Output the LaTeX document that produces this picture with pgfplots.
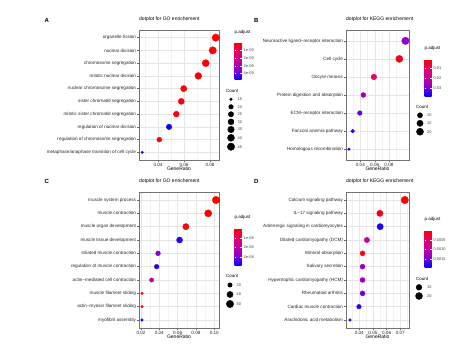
\documentclass[border=0pt]{standalone}
\usepackage{pgfplots}
\usepackage{pgfplotstable}
\pgfplotsset{compat=1.18}
\usepackage{fontspec}
\setmainfont{Liberation Sans}
\newcommand\tlf{\fontsize{4.6}{5.5}\selectfont}
\newcommand\lgf{\fontsize{3.9}{4.8}\selectfont}
\newcommand\lgt{\fontsize{4.5}{5.4}\selectfont}
\newcommand\ttf{\fontsize{5.0}{6}\selectfont}

\pgfplotstableread{
y ratio padj count
0 0.0844 1.0e-11 45
1 0.0821 2.0e-11 44
2 0.0767 5.0e-11 41
3 0.0710 1.0e-10 38
4 0.0598 1.5e-10 32
5 0.0579 1.5e-10 31
6 0.0541 2.0e-10 29
7 0.0485 4.6e-09 26
8 0.0410 3.0e-10 22
9 0.0279 4.5e-09 15
}\tabA

\pgfplotstableread{
y ratio padj count
0 0.1030 0.027 22
1 0.0945 0.002 20
2 0.0589 0.011 12
3 0.0442 0.025 9
4 0.0392 0.031 8
5 0.0293 0.035 6
6 0.0240 0.037 5
}\tabB

\pgfplotstableread{
y ratio padj count
0 0.1019 1.0e-10 61
1 0.0934 2.0e-10 56
2 0.0690 5.0e-10 41
3 0.0621 3.6e-08 37
4 0.0386 2.8e-08 23
5 0.0371 3.5e-08 22
6 0.0316 2.0e-08 19
7 0.0211 5.0e-10 13
8 0.0211 1.0e-09 13
9 0.0211 3.7e-08 13
}\tabC

\pgfplotstableread{
y ratio padj count
0 0.0733 0.00002 22
1 0.0551 0.00010 17
2 0.0553 0.00180 17
3 0.0456 0.00090 14
4 0.0424 0.00010 13
5 0.0424 0.00125 13
6 0.0424 0.00125 13
7 0.0424 0.00150 13
8 0.0398 0.00175 12
9 0.0332 0.00180 10
}\tabD

\pgfplotsset{
  colormap={padj}{rgb255=(255,0,0) rgb255=(232,0,100) rgb255=(195,0,155) rgb255=(135,0,210) rgb255=(0,0,255)},
  panel/.style={
    scale only axis, anchor=north west, y dir=reverse,
    colormap name=padj,
    scaled x ticks=false,
    axis line style={black!55, line width=0.45pt},
    tick style={black!60, line width=0.35pt},
    major tick length=1.6pt, minor tick length=0pt, tick align=outside,
    tick pos=left,
    grid=both,
    major grid style={black!10, line width=0.35pt},
    minor grid style={black!5, line width=0.25pt},
    ticklabel style={font=\tlf, text=black!85},
    xticklabel style={inner sep=1pt},
    yticklabel style={inner sep=1.2pt},
    xlabel=GeneRatio, xlabel style={font=\ttf, inner sep=0pt, yshift=0pt},
    title style={at={(0,1)}, anchor=south west, font=\ttf, inner sep=0pt, yshift=2.5pt},
    clip=false,
    colorbar,
  },
  every colorbar/.append style={
    scale only axis, width=7pt, height=37pt,
    at={(parent axis.north east)}, anchor=north west, xshift=7pt,
    y dir=reverse, scaled y ticks=false, grid=none, xlabel={}, ylabel={},
    axis line style={draw=none},
    tick style={draw=white, line width=0.4pt},
    major tick length=1.4pt, tick align=inside,
    ytick pos=both, yticklabel pos=right,
    yticklabel style={font=\lgf, text=black!75, inner sep=1pt, xshift=1pt},
    title=p.adjust,
    title style={at={(0,1)}, anchor=south west, font=\lgt, inner sep=0pt, yshift=2pt},
  },
  dots/.style 2 args={scatter, only marks, mark=*,
    scatter/use mapped color={draw=mapped color, fill=mapped color},
    point meta=\thisrow{padj},
    visualization depends on={\thisrow{count} \as \cnt},
    scatter/@pre marker code/.append style={/tikz/mark size={1.3+2.4*sqrt((\cnt-#1)/(#2-#1))}}},
  legdots/.style 2 args={scatter, only marks, mark=*,
    scatter/use mapped color={draw=black, fill=black},
    point meta=\thisrow{count},
    visualization depends on={\thisrow{count} \as \cnt},
    scatter/@pre marker code/.append style={/tikz/mark size={1.3+2.4*sqrt((\cnt-#1)/(#2-#1))}}},
}

\begin{document}
\begin{tikzpicture}
\useasboundingbox (0,0) rectangle (474pt,-351pt);

% Panel A
\begin{axis}[panel, at={(139pt,-30pt)}, width=80pt, height=130pt,
  title={dotplot for GO enrichement},
  xmin=0.0254, xmax=0.0869, ymin=-0.6, ymax=9.6,
  xtick={0.04,0.06,0.08}, xticklabels={0.04,0.06,0.08},
  minor xtick={0.03,0.05,0.07},
  ytick={0,...,9},
  yticklabels={organelle fission, nuclear division, chromosome segregation, mitotic nuclear division, nuclear chromosome segregation, sister chromatid segregation, mitotic sister chromatid segregation, regulation of nuclear division, regulation of chromosome segregation, metaphase/anaphase transition of cell cycle},
  point meta min=0, point meta max=4.8e-9,
  colorbar style={yshift=-12.7pt, ytick={1e-9,2e-9,3e-9,4e-9}, yticklabels={1e-09,2e-09,3e-09,4e-09}},
]
\addplot[dots={15}{45}] table[x=ratio, y=y] {\tabA};
\end{axis}

% Panel B
\begin{axis}[panel, at={(346pt,-30pt)}, width=63pt, height=130pt,
  title={dotplot for KEGG enrichement},
  xmin=0.0199, xmax=0.108, ymin=-0.6, ymax=6.6,
  xtick={0.04,0.06,0.08}, xticklabels={0.04,0.06,0.08},
  minor xtick={0.03,0.05,0.07,0.09},
  ytick={0,...,6},
  yticklabels={Neuroactive ligand−receptor interaction, Cell cycle, Oocyte meiosis, Protein digestion and absorption, ECM−receptor interaction, Fanconi anemia pathway, Homologous recombination},
  point meta min=0.0002, point meta max=0.038,
  colorbar style={yshift=-29pt, ytick={0.01,0.02,0.03}, yticklabels={0.01,0.02,0.03}},
]
\addplot[dots={5}{22}] table[x=ratio, y=y] {\tabB};
\end{axis}

% Panel C
\begin{axis}[panel, at={(139pt,-192pt)}, width=80pt, height=136pt,
  title={dotplot for GO enrichement},
  xmin=0.0178, xmax=0.1052, ymin=-0.6, ymax=9.6,
  xtick={0.02,0.04,0.06,0.08,0.10}, xticklabels={0.02,0.04,0.06,0.08,0.10},
  minor xtick={0.03,0.05,0.07,0.09},
  ytick={0,...,9},
  yticklabels={muscle system process, muscle contraction, muscle organ development, muscle tissue development, striated muscle contraction, regulation of muscle contraction, actin−mediated cell contraction, muscle filament sliding, actin−myosin filament sliding, myofibril assembly},
  point meta min=0, point meta max=3.8e-8,
  colorbar style={yshift=-36pt, ytick={1e-8,2e-8,3e-8}, yticklabels={1e-08,2e-08,3e-08}},
]
\addplot[dots={13}{61}] table[x=ratio, y=y] {\tabC};
\end{axis}

% Panel D
\begin{axis}[panel, at={(346pt,-192pt)}, width=63pt, height=136pt,
  title={dotplot for KEGG enrichement},
  xmin=0.0303, xmax=0.0764, ymin=-0.6, ymax=9.6,
  xtick={0.04,0.05,0.06,0.07}, xticklabels={0.04,0.05,0.06,0.07},
  minor xtick={0.035,0.045,0.055,0.065,0.075},
  ytick={0,...,9},
  yticklabels={Calcium signaling pathway, IL−17 signaling pathway, Adrenergic signaling in cardiomyocytes, Dilated cardiomyopathy (DCM), Mineral absorption, Salivary secretion, Hypertrophic cardiomyopathy (HCM), Rheumatoid arthritis, Cardiac muscle contraction, Arachidonic acid metabolism},
  point meta min=0, point meta max=0.0019,
  colorbar style={yshift=-38pt, ytick={0.0005,0.0010,0.0015}, yticklabels={0.0005,0.0010,0.0015}},
]
\addplot[dots={10}{22}] table[x=ratio, y=y] {\tabD};
\end{axis}

% Count legends and panel letters (overlay axis in pixel coordinates)
\begin{axis}[at={(0pt,0pt)}, anchor=north west, scale only axis, width=474pt, height=351pt,
  xmin=0, xmax=474, ymin=0, ymax=351, y dir=reverse, hide axis, clip=false]
\addplot[legdots={15}{45}] table[x=x, y=y] {
x y count
231 99.3 15
231 106.8 20
231 114.3 25
231 121.8 30
231 129.5 35
231 137.8 40
231 146.7 45
};
\addplot[legdots={5}{22}] table[x=x, y=y] {
x y count
420 115.3 10
420 123.3 15
420 131.7 20
};
\addplot[legdots={13}{61}] table[x=x, y=y] {
x y count
230 285.0 20
230 294.5 40
230 304.0 60
};
\addplot[legdots={10}{22}] table[x=x, y=y] {
x y count
419 287.3 15
419 296.0 20
};
\begin{scope}[every node/.style={font=\lgf, text=black!75, anchor=west, inner sep=0pt}]
\node at (axis cs:237.5,99.3) {15};
\node at (axis cs:237.5,106.8) {20};
\node at (axis cs:237.5,114.3) {25};
\node at (axis cs:237.5,121.8) {30};
\node at (axis cs:237.5,129.5) {35};
\node at (axis cs:237.5,137.8) {40};
\node at (axis cs:237.5,146.7) {45};
\node at (axis cs:427,115.3) {10};
\node at (axis cs:427,123.3) {15};
\node at (axis cs:427,131.7) {20};
\node at (axis cs:236.5,285.0) {20};
\node at (axis cs:236.5,294.5) {40};
\node at (axis cs:236.5,304.0) {60};
\node at (axis cs:427,287.3) {15};
\node at (axis cs:427,296.0) {20};
\end{scope}
\begin{scope}[every node/.style={font=\lgt, anchor=west, inner sep=0pt}]
\node at (axis cs:226,91) {Count};
\node at (axis cs:416,107.3) {Count};
\node at (axis cs:226,275.5) {Count};
\node at (axis cs:416,279) {Count};
\end{scope}
\begin{scope}[every node/.style={font=\fontsize{6}{7}\selectfont\bfseries, anchor=center, inner sep=0pt}]
\node at (axis cs:46.7,20) {A};
\node at (axis cs:256.3,20) {B};
\node at (axis cs:46.7,181) {C};
\node at (axis cs:256.3,181) {D};
\end{scope}
\end{axis}
\end{tikzpicture}
\end{document}
